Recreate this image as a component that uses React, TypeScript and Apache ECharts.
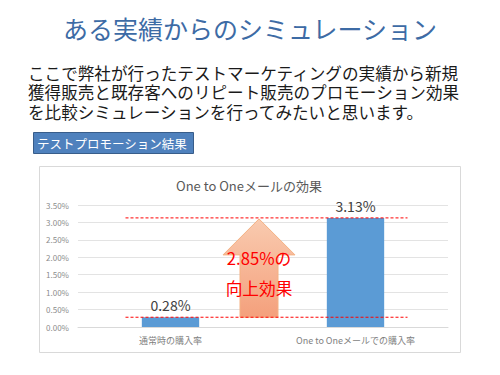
import React, { useEffect, useRef } from "react";
import * as echarts from "echarts";

const titleText = "ある実績からのシミュレーション";
const bodyLines = [
  "ここで弊社が行ったテストマーケティングの実績から新規",
  "獲得販売と既存客へのリピート販売のプロモーション効果",
  "を比較シミュレーションを行ってみたいと思います。",
];
const boxLabel = "テストプロモーション結果";
const chartTitle = "One to Oneメールの効果";
const categories = ["通常時の購入率", "One to Oneメールでの購入率"];
const rates = [0.28, 3.13];
const yTicks = { min: 0, max: 3.5, interval: 0.5 };
const effectLines = ["2.85%の", "向上効果"];

const FONT = '"Noto Sans CJK JP", "Noto Sans", sans-serif';
const BODY_FONT = '"Liberation Sans", "Noto Sans CJK JP", sans-serif';

export default function App() {
  const ref = useRef<HTMLDivElement>(null);
  useEffect(() => {
    if (!ref.current) return;
    const chart = echarts.init(ref.current, null, { renderer: "svg" });
    chart.setOption({
      animation: false,
      backgroundColor: "#ffffff",
      textStyle: { fontFamily: FONT },
      grid: { left: 78, right: 52, top: 205, bottom: 48 },
      xAxis: {
        type: "category",
        data: categories,
        axisLine: { lineStyle: { color: "#d9d9d9" } },
        axisTick: { show: false },
        axisLabel: { color: "#7f7f7f", fontSize: 9, margin: 9, fontFamily: FONT },
      },
      yAxis: {
        type: "value",
        min: yTicks.min,
        max: yTicks.max,
        interval: yTicks.interval,
        axisLine: { show: false },
        axisTick: { show: false },
        splitLine: { lineStyle: { color: "#e3e3e3" } },
        axisLabel: {
          color: "#8c8c8c",
          fontSize: 8,
          margin: 9,
          fontFamily: FONT,
          formatter: (v: number) => v.toFixed(2) + "%",
        },
      },
      series: [
        {
          type: "bar",
          data: rates,
          barWidth: "31%",
          itemStyle: { color: "#5b9bd5" },
          z: 3,
          label: {
            show: true,
            position: "top",
            distance: 5,
            color: "#404040",
            fontSize: 14,
            fontFamily: FONT,
            formatter: (p: any) => p.value.toFixed(2) + "%",
          },
        },
      ],
    });

    const p0 = chart.convertToPixel({ seriesIndex: 0 }, [0, rates[0]]) as number[];
    const p1 = chart.convertToPixel({ seriesIndex: 0 }, [1, rates[1]]) as number[];
    const yLow = p0[1];
    const yHigh = p1[1];
    const lineX0 = p0[0] - 45;
    const lineX1 = p1[0] + 52;
    const cx = (p0[0] + p1[0]) / 2 - 4;
    const shaftHalf = 19;
    const headHalf = 36;
    const headBase = yHigh + 37;

    chart.setOption({
      graphic: [
        {
          type: "rect",
          z: -10,
          shape: { x: 39.5, y: 166.5, width: 421, height: 186 },
          style: { fill: "#ffffff", stroke: "#d9d9d9", lineWidth: 1 },
        },
        {
          type: "text",
          x: 250,
          y: 28,
          style: {
            text: titleText,
            fill: "#3d6ba5",
            font: `25px ${FONT}`,
            align: "center",
            verticalAlign: "middle",
          },
        },
        ...bodyLines.map((t, i) => ({
          type: "text",
          x: 28,
          y: 74 + i * 19.5,
          style: {
            text: t,
            fill: "#1a1a1a",
            font: `16.6px ${BODY_FONT}`,
            align: "left",
            verticalAlign: "middle",
          },
        })),
        {
          type: "rect",
          shape: { x: 33.5, y: 132.5, width: 160, height: 21 },
          style: { fill: "#4f81bd", stroke: "#385d8a", lineWidth: 1 },
        },
        {
          type: "text",
          x: 37,
          y: 143,
          style: {
            text: boxLabel,
            fill: "#ffffff",
            font: `12.5px ${FONT}`,
            align: "left",
            verticalAlign: "middle",
          },
        },
        {
          type: "text",
          x: 249,
          y: 185,
          style: {
            text: chartTitle,
            fill: "#595959",
            font: `13px ${FONT}`,
            align: "center",
            verticalAlign: "middle",
          },
        },
        {
          type: "line",
          z: 10,
          shape: { x1: lineX0, y1: yHigh, x2: lineX1, y2: yHigh },
          style: { stroke: "#ff0000", lineWidth: 1, lineDash: [3, 2] },
        },
        {
          type: "line",
          z: 10,
          shape: { x1: lineX0, y1: yLow, x2: lineX1, y2: yLow },
          style: { stroke: "#ff0000", lineWidth: 1, lineDash: [3, 2] },
        },
        {
          type: "polygon",
          z: 5,
          shape: {
            points: [
              [cx, yHigh + 1],
              [cx + headHalf, headBase],
              [cx + shaftHalf, headBase],
              [cx + shaftHalf, yLow],
              [cx - shaftHalf, yLow],
              [cx - shaftHalf, headBase],
              [cx - headHalf, headBase],
            ],
          },
          style: {
            fill: new echarts.graphic.LinearGradient(0, 0, 0, 1, [
              { offset: 0, color: "#f9cbb0" },
              { offset: 1, color: "#f4a07c" },
            ]),
            stroke: "#f4b183",
            lineWidth: 1,
          },
        },
        ...effectLines.map((t, i) => ({
          type: "text",
          z: 11,
          x: cx,
          y: 258 + i * 30,
          style: {
            text: t,
            fill: "#ff0000",
            font: `16.7px ${FONT}`,
            align: "center",
            verticalAlign: "middle",
          },
        })),
      ],
    });

    return () => chart.dispose();
  }, []);
  return (
    <div
      ref={ref}
      style={{ position: "fixed", left: 0, top: 0, width: 500, height: 375 }}
    />
  );
}
